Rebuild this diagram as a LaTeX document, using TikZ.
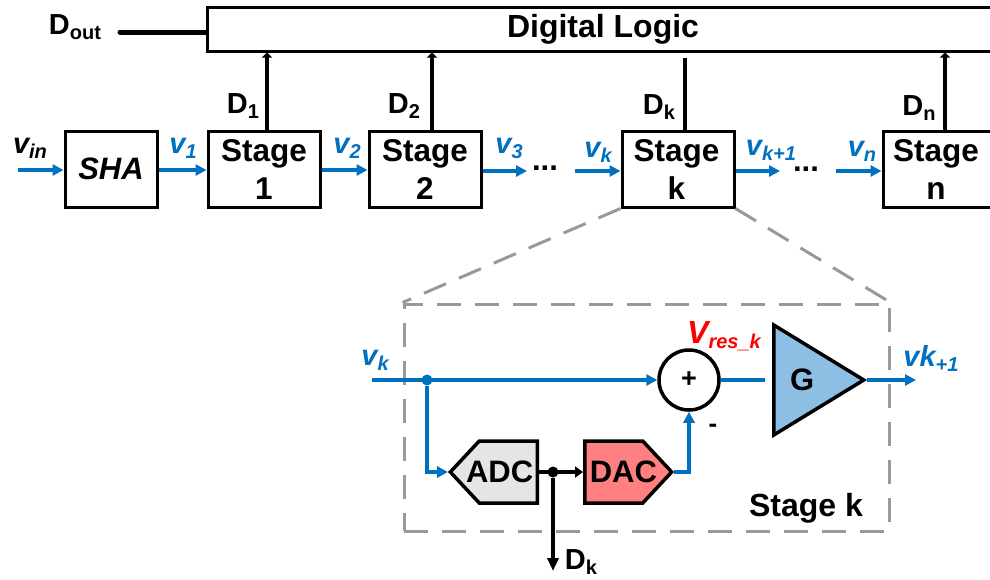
\documentclass[tikz,border=0pt]{standalone}
\usepackage{fontspec}
\setmainfont{Liberation Sans}
\usetikzlibrary{arrows.meta,shapes.geometric,shapes.symbols}

\definecolor{sigblue}{HTML}{0070C0}
\definecolor{framegray}{HTML}{999999}

\newcommand{\sigtxt}[2]{\fontsize{29}{29}\selectfont\bfseries\itshape #1\raisebox{-5pt}{\fontsize{20}{20}\selectfont #2}}
\newcommand{\bittxt}[2]{\fontsize{29}{29}\selectfont\bfseries #1\raisebox{-5pt}{\fontsize{20}{20}\selectfont #2}}

\tikzset{
    block/.style={draw, line width=3pt, inner sep=0pt, font=\fontsize{31.5}{38}\selectfont\bfseries, align=center},
    stagebox/.style={block, minimum width=112pt, minimum height=76pt},
    sigline/.style={draw=sigblue, line width=4pt},
    sigarrow/.style={sigline, -{Triangle[width=11pt,length=11pt]}},
    bitline/.style={line width=3.5pt},
    bitarrow/.style={bitline, -{Triangle[width=10pt,length=5pt]}},
    siglabel/.style={text=sigblue, inner sep=0pt},
    bitlabel/.style={inner sep=0pt},
    conv/.style={draw, line width=3.5pt, signal, minimum height=62pt, inner sep=0pt, signal pointer angle=94, font=\fontsize{31}{31}\selectfont\bfseries},
    framed/.style={draw=framegray, line width=3pt, dash pattern=on 24pt off 14pt}
}

\begin{document}
\begin{tikzpicture}[x=1pt,y=-1pt]
        \useasboundingbox (0,0) rectangle (990,579);

        % top row
        \node[block, minimum width=792pt, minimum height=44pt, font=\fontsize{32}{38}\selectfont\bfseries] (logic) at (603,29) {\raisebox{-3pt}{Digital Logic}};
        \node[block, minimum width=92pt, minimum height=76pt, font=\fontsize{31}{31}\selectfont\bfseries\itshape] (sha) at (111,169) {SHA};
        \node[stagebox] (stage1) at (264,169) {Stage\\1};
        \node[stagebox] (stage2) at (425,169) {Stage\\2};
        \node[stagebox] (stagek) at (678,169) {Stage\hspace*{3pt}\\k\hspace*{3pt}};
        \node[stagebox, minimum width=110pt] (stagen) at (938,169) {Stage\hspace*{4pt}\\n\hspace*{4pt}};

        \coordinate (dout) at (120,32);
        \coordinate (vin) at (18,170);
        \coordinate (v3) at (527,171);
        \coordinate (vk) at (575,171);
        \coordinate (vkk) at (780,171);
        \coordinate (vn) at (836,171);

        \draw[line width=5pt, line cap=round] (dout) -- (dout -| logic.west);
        \draw[bitarrow] ([xshift=3pt]stage1.north) -- ([xshift=3pt]stage1.north |- logic.south);
        \draw[bitarrow] ([xshift=7pt]stage2.north) -- ([xshift=7pt]stage2.north |- logic.south);
        \draw[bitline, shorten >=5pt] ([xshift=7pt]stagek.north) -- ([xshift=7pt]stagek.north |- logic.south);
        \draw[bitarrow] ([xshift=7pt]stagen.north) -- ([xshift=7pt]stagen.north |- logic.south);

        \draw[sigarrow] (vin) -- (sha.west |- vin);
        \draw[sigarrow] (sha.east |- vin) -- (stage1.west |- vin);
        \draw[sigarrow] (stage1.east |- vin) -- (stage2.west |- vin);
        \draw[sigarrow] (stage2.east |- v3) -- (v3);
        \draw[sigarrow] (vk) -- (stagek.west |- vk);
        \draw[sigarrow] (stagek.east |- vkk) -- (vkk);
        \draw[sigarrow] (vn) -- (stagen.west |- vn);

        \node[bitlabel] (doutlabel) at (75,27) {\bittxt{D}{out}};
        \node[bitlabel] (d1) at (243,106) {\bittxt{D}{1}};
        \node[bitlabel] (d2) at (404,106) {\bittxt{D}{2}};
        \node[bitlabel] (dk) at (659,107) {\bittxt{D}{k}};
        \node[bitlabel] (dn) at (919,108) {\bittxt{D}{n}};

        \node[bitlabel] (vinlabel) at (30,148) {\sigtxt{v}{in}};
        \node[siglabel] (v1label) at (183,148) {\sigtxt{v}{1}};
        \node[siglabel] (v2label) at (347,148) {\sigtxt{v}{2}};
        \node[siglabel] (v3label) at (509,148) {\sigtxt{v}{3}};
        \node[siglabel] (vklabel) at (598,152) {\sigtxt{v}{k}};
        \node[siglabel] (vkklabel) at (771,150) {\sigtxt{v}{k+1}};
        \node[siglabel] (vnlabel) at (862,151) {\sigtxt{v}{n}};
        \node[bitlabel, font=\fontsize{31}{31}\selectfont\bfseries] (dots1) at (545,168) {...};
        \node[bitlabel, font=\fontsize{31}{31}\selectfont\bfseries] (dots2) at (806,169) {...};

        % stage k
        \node[framed, minimum width=485pt, minimum height=227pt] (frame) at (646.5,417.5) {};
        \draw[framed] (stagek.south west) -- (frame.north west);
        \draw[framed] (stagek.south east) -- (frame.north east);

        \node[draw, circle, line width=3.5pt, minimum size=60pt, inner sep=0pt, font=\fontsize{27}{27}\selectfont\bfseries] (sum) at (689,380) {+};
        \node[draw, line width=3.5pt, fill=sigblue!45!white, isosceles triangle, isosceles triangle apex angle=62, isosceles triangle stretches, minimum height=90pt, minimum width=110pt, inner sep=0pt, anchor=lower side, font=\fontsize{31}{31}\selectfont\bfseries] (gain) at (772,380) {G};
        \node[conv, signal to=west, fill=black!10, anchor=east] (adc) at (539,472) {\makebox[58pt][r]{ADC\hspace{4pt}}};
        \node[conv, signal to=east, fill=red!50!white, anchor=west] (dac) at (583,472) {\makebox[58pt][l]{\hspace{5pt}DAC}};

        \coordinate (vkin) at (372,380);
        \coordinate (vout) at (916,380);
        \coordinate (dkout) at (553,571);
        \node[fill=sigblue, circle, inner sep=0pt, minimum size=11pt] (split) at (427,380) {};
        \node[fill=black, circle, inner sep=0pt, minimum size=11pt] (tap) at (553,472) {};

        \draw[sigarrow] (vkin) -- (sum.west);
        \draw[sigarrow] (split) |- (adc.west);
        \draw[sigline, shorten >=7pt] (sum.east) -- (gain.lower side);
        \draw[sigarrow] (gain.apex) -- (vout);
        \draw[sigarrow] (dac.east) -| (sum.south);
        \draw[bitline, -{Triangle[width=11pt,length=8pt]}] (adc.east) -- (dac.west);
        \draw[bitline, -{Triangle[width=11pt,length=13pt]}] (tap) -- (dkout);

        \node[siglabel] (vk2label) at (375,360) {\sigtxt{v}{k}};
        \node[siglabel] (voutlabel) at (931,358) {\sigtxt{vk}{+1}};
        \node[inner sep=0pt, text=red] (vres) at (724,336) {\sigtxt{\fontsize{32}{32}\selectfont V}{res\_k}};
        \node[bitlabel, font=\fontsize{26}{26}\selectfont\bfseries] (minus) at (713,428) {-};
        \node[bitlabel, font=\fontsize{32}{32}\selectfont\bfseries] (stagelabel) at (806,508) {Stage k};
        \node[bitlabel] (dk2) at (581,562) {\bittxt{D}{k}};
\end{tikzpicture}
\end{document}
